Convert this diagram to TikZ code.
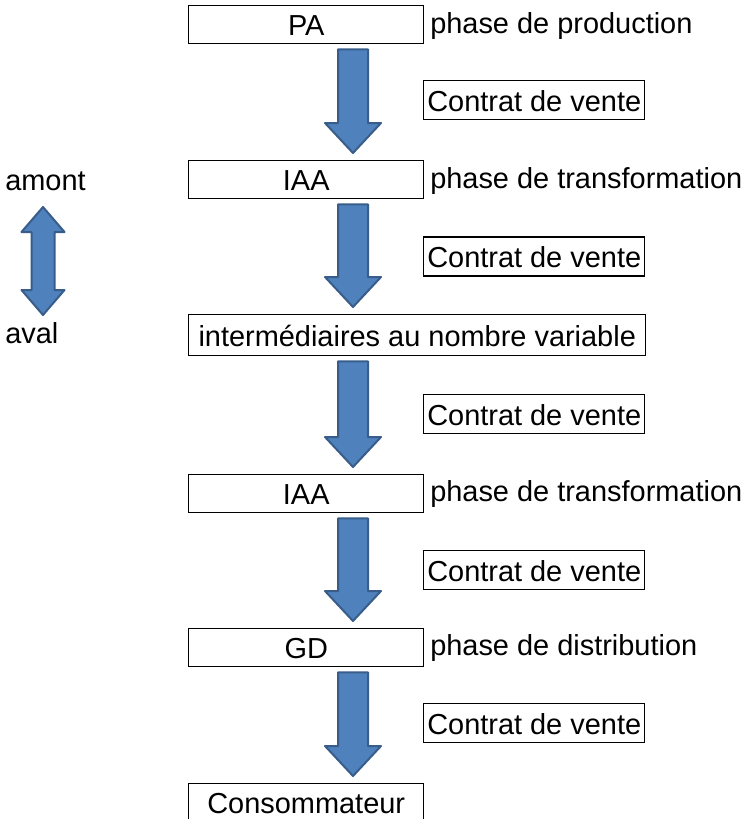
\documentclass[tikz,border=0pt]{standalone}
\usepackage{fontspec}
\setmainfont{Liberation Sans}
\usepackage{xcolor}
\usepackage{tikz}
\usetikzlibrary{calc,positioning}

\definecolor{bleuFleche}{HTML}{4F81BD}
\definecolor{bordFleche}{HTML}{385D8A}

% grosse fleche bleue d'une boite a la suivante
\newcommand{\flecheBas}[2]{%
\draw[flechebleue] ($(axe |- #1.south)+(-15,5)$) -- ($(axe |- #2.north)+(-15,-37)$)
	-- ($(axe |- #2.north)+(-28,-37)$) -- ($(axe |- #2.north)+(0,-7)$)
	-- ($(axe |- #2.north)+(28,-37)$) -- ($(axe |- #2.north)+(15,-37)$)
	-- ($(axe |- #1.south)+(15,5)$) -- cycle;}

\begin{document}
\begin{tikzpicture}[x=0.75pt,y=-0.75pt,
every node/.style={font=\fontsize{21.7}{26}\selectfont,inner sep=0pt},
boite/.style={draw,line width=1.1pt,minimum width=176.25pt,minimum height=28.5pt,text height=17.5pt,text depth=1.2pt,anchor=north west},
contrat/.style={draw,line width=1.1pt,minimum width=165.75pt,minimum height=29.25pt,text height=17.5pt,text depth=0.5pt,anchor=west},
phase/.style={anchor=base west},
flechebleue/.style={fill=bleuFleche,draw=bordFleche,line width=1.5pt,line join=round}]
\useasboundingbox (0,0) rectangle (744,819);

% la filiere
\node[boite] (pa) at (188,5) {PA};
\node[boite] (iaa1) at (188,160) {IAA};
\node[boite,minimum width=342.75pt,minimum height=30.75pt] (inter) at (188,314) {intermédiaires au nombre variable};
\node[boite] (iaa2) at (188,474) {IAA};
\node[boite] (gd) at (188,628) {GD};
\node[boite] (conso) at (188,783) {Consommateur};

\coordinate (axe) at (353,0);
\flecheBas{pa}{iaa1}
\flecheBas{iaa1}{inter}
\flecheBas{inter}{iaa2}
\flecheBas{iaa2}{gd}
\flecheBas{gd}{conso}

% les phases
\node[phase] (ph1) at (430,33) {phase de production};
\node[phase] (ph2) at (430,188.5) {phase de transformation};
\node[phase] (ph3) at (430,501.5) {phase de transformation};
\node[phase] (ph4) at (430,655.5) {phase de distribution};

% les contrats
\node[contrat] (c1) at (423,100) {Contrat de vente};
\node[contrat] (c2) at (423,256.5) {Contrat de vente};
\node[contrat] (c3) at (423,414) {Contrat de vente};
\node[contrat] (c4) at (423,570) {Contrat de vente};
\node[contrat] (c5) at (423,723) {Contrat de vente};

% amont / aval
\node[anchor=base west] (amont) at (5,190) {amont};
\node[anchor=base west] (aval) at (5,343.5) {aval};
\coordinate (haut) at ($(amont.base west)+(38,17)$);
\coordinate (bas) at ($(aval.base west)+(38,-28.5)$);
\draw[flechebleue] (haut) -- ($(haut)+(21.5,25)$) -- ($(haut)+(11.5,25)$)
	-- ($(bas)+(11.5,-25)$) -- ($(bas)+(21.5,-25)$) -- (bas)
	-- ($(bas)+(-21.5,-25)$) -- ($(bas)+(-11.5,-25)$)
	-- ($(haut)+(-11.5,25)$) -- ($(haut)+(-21.5,25)$) -- cycle;
\end{tikzpicture}
\end{document}
